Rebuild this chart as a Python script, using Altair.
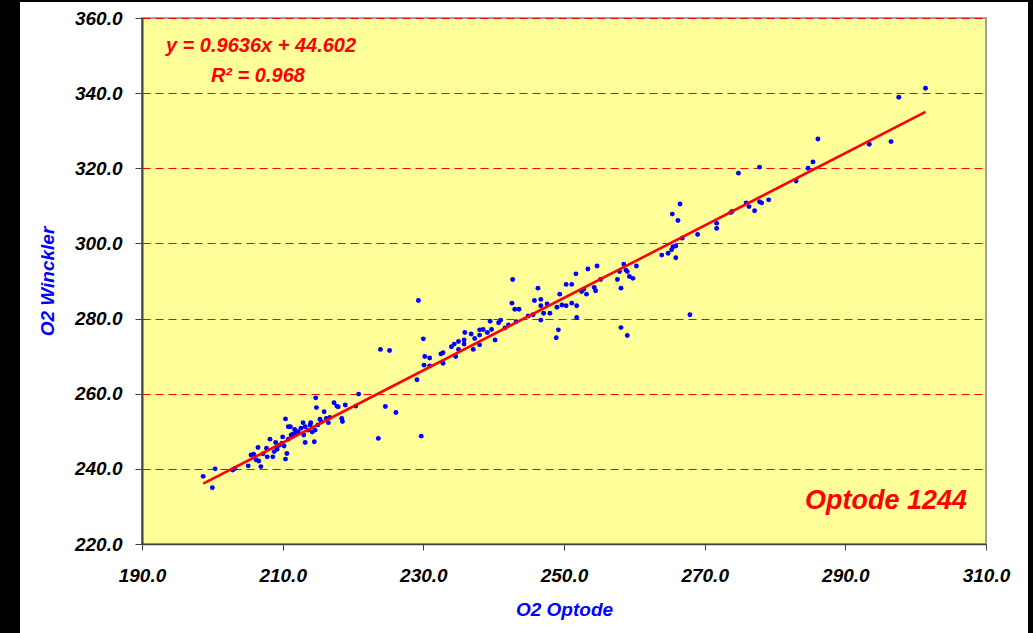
import altair as alt
import pandas as pd

# Paired oxygen readings: optode sensor (x) vs. Winkler titration (y)
optode = [
    198.7, 200.0, 200.4, 202.9, 203.2, 205.1, 205.5, 205.9, 206.2, 206.5, 206.6, 206.9,
    207.7, 207.8, 208.2, 208.6, 208.8, 209.2, 209.5, 209.9, 210.2, 210.4, 210.6, 210.4,
    210.8, 211.1, 210.8, 211.2, 211.5, 211.9, 212.2, 212.9, 213.2, 213.2, 213.6, 213.9,
    214.0, 214.5, 214.6, 214.7, 214.8, 215.0, 215.3, 215.9, 216.2, 216.5, 216.7, 217.3,
    217.7, 217.9, 218.4, 218.5, 218.9, 220.4, 220.8,
    207.2, 209.0, 210.0, 211.7, 212.6, 213.0, 214.2, 215.5,
    223.6, 224.6, 226.1, 229.7,
    223.9, 225.2, 229.1, 229.3, 230.0, 230.2, 230.9, 230.1, 230.9, 232.5, 232.8, 232.8,
    234.0, 234.4, 234.6, 235.0, 235.0, 235.8, 235.8, 235.9, 236.8, 237.1, 237.3, 238.0,
    238.0, 238.0, 238.5, 239.1, 239.5, 239.7, 240.2, 240.7,
    241.0, 241.6, 242.1, 242.6, 242.7, 243.0, 243.6, 243.2, 244.9, 245.6, 245.8, 246.3,
    246.7, 246.7, 246.7, 247.1, 247.6, 248.0, 248.9, 249.2, 249.0, 249.4, 249.7, 250.3,
    250.3, 251.1, 251.1, 251.7, 251.8, 251.8, 252.5, 252.8, 253.2, 253.4, 254.3, 254.5,
    254.7, 255.2, 257.6, 258.1, 258.1, 257.9, 258.5, 258.8, 259.0, 259.0, 259.3, 259.8,
    260.3,
    263.9, 264.8, 265.3, 265.5, 265.9, 265.9, 265.4, 266.2, 266.5, 266.8, 267.9, 269.0,
    271.7, 271.7, 273.7, 273.9,
    274.8, 275.9, 276.3, 277.1, 277.8, 277.8, 278.1, 279.1, 283.0, 284.7, 285.4, 286.1,
    293.4, 296.5, 297.6, 301.4,
]
winkler = [
    238.0, 235.0, 240.0, 239.7, 240.1, 240.8, 243.7, 243.9, 242.4, 245.7, 242.1, 240.6,
    245.5, 243.2, 247.9, 243.2, 244.6, 245.2, 246.3, 246.8, 246.1, 242.6, 244.1, 253.3,
    251.2, 251.2, 247.9, 249.0, 249.3, 249.6, 249.9, 252.3, 251.2, 247.0, 250.3, 251.7,
    252.3, 247.2, 250.3, 258.9, 256.3, 251.7, 253.2, 255.2, 253.4, 252.3, 253.7, 257.6,
    256.7, 256.5, 253.4, 252.6, 257.0, 256.7, 259.9,
    244.0, 247.0, 248.5, 250.5, 250.8, 249.0, 249.8, 252.5,
    248.1, 256.6, 255.0, 248.7,
    271.8, 271.5, 263.7, 284.8, 274.6, 269.9, 269.5, 267.6, 267.4, 270.6, 270.9, 268.1,
    272.5, 273.2, 269.9, 273.9, 271.8, 274.3, 273.2, 276.3, 275.9, 271.8, 274.7, 275.6,
    277.0, 273.0, 277.1, 276.3, 279.3, 277.1, 274.3, 278.9,
    279.6, 277.5, 278.3, 284.1, 290.4, 282.5, 282.5, 279.2, 280.7, 281.0, 284.8, 288.1,
    285.1, 283.4, 279.6, 281.4, 283.9, 281.4, 274.9, 277.0, 283.0, 286.5, 283.6, 283.4,
    289.1, 289.1, 284.1, 291.9, 283.4, 280.3, 287.2, 287.8, 286.5, 293.2, 288.3, 287.4,
    294.0, 290.4, 290.4, 288.1, 277.6, 292.5, 294.5, 292.9, 292.5, 275.5, 291.2, 290.7,
    294.0,
    296.9, 297.4, 298.3, 299.1, 299.3, 296.2, 307.8, 306.1, 310.5, 301.4, 281.0, 302.4,
    305.4, 304.0, 308.2, 308.5,
    318.7, 310.8, 309.8, 308.7, 320.3, 311.1, 310.8, 311.6, 316.6, 320.0, 321.7, 327.8,
    326.4, 327.1, 338.9, 341.3,
]

# Linear fit as reported on the chart
slope = 0.9636
intercept = 44.602
r_squared = 0.968

x_ticks = [190, 210, 230, 250, 270, 290, 310]
y_ticks = [220, 240, 260, 280, 300, 320, 340, 360]

W, H = 844, 526
PAD = {"left": 142, "top": 18, "right": 47, "bottom": 89}
FONT = "Liberation Sans"

points = pd.DataFrame({"optode": optode, "winkler": winkler})
fit_x = [min(optode), max(optode)]
fit = pd.DataFrame({"optode": fit_x, "winkler": [slope * v + intercept for v in fit_x]})

labels = pd.DataFrame({
    "optode": [193.4, 199.8, 307.3],
    "winkler": [352.6, 344.6, 231.4],
    "text": [f"y = {slope}x + {intercept}", f"R² = {r_squared}", "Optode 1244"],
    "size": [20, 20, 27],
    "align": ["left", "left", "right"],
})

x_scale = alt.Scale(domain=[190, 310], nice=False, zero=False)
y_scale = alt.Scale(domain=[220, 360], nice=False, zero=False)

x_axis = alt.Axis(
    title="O2 Optode", values=x_ticks, format=".1f", grid=False,
    labelFont=FONT, labelFontSize=19, labelFontWeight="bold", labelFontStyle="italic",
    labelColor="black", labelPadding=16, labelFlush=False,
    tickSize=6, tickColor="#404040", domainColor="#404040", domainWidth=1.5,
    titleFont=FONT, titleFontSize=19, titleFontWeight="bold", titleFontStyle="italic",
    titleColor="#0000FF", titleY=65, titleBaseline="middle",
)
y_axis = alt.Axis(
    title="O2 Winckler", values=y_ticks, format=".1f",
    grid=True, gridColor="#FF0000", gridDash=[8, 5], gridWidth=1,
    labelFont=FONT, labelFontSize=19, labelFontWeight="bold", labelFontStyle="italic",
    labelColor="black", labelPadding=13, labelFlush=False,
    tickSize=7, tickColor="#404040", domainColor="#404040", domainWidth=2,
    titleFont=FONT, titleFontSize=19, titleFontWeight="bold", titleFontStyle="italic",
    titleColor="#0000FF", titleX=-95, titleY=H / 2, titleAngle=-90,
    titleAlign="center", titleBaseline="middle",
)

frame = pd.DataFrame({"k": [0]})
strip_left = alt.Chart(frame).mark_rect(color="black").encode(
    x=alt.value(-PAD["left"]), x2=alt.value(-PAD["left"] + 20),
    y=alt.value(-PAD["top"]), y2=alt.value(H + PAD["bottom"]),
)
strip_top = alt.Chart(frame).mark_rect(color="black").encode(
    x=alt.value(-PAD["left"]), x2=alt.value(W + PAD["right"]),
    y=alt.value(-PAD["top"]), y2=alt.value(-PAD["top"] + 2),
)
strip_right = alt.Chart(frame).mark_rect(color="black").encode(
    x=alt.value(W + PAD["right"] - 5), x2=alt.value(W + PAD["right"]),
    y=alt.value(-PAD["top"]), y2=alt.value(H + PAD["bottom"]),
)

dots = alt.Chart(points).mark_circle(color="#0000FF", opacity=1, size=24).encode(
    x=alt.X("optode:Q", scale=x_scale, axis=x_axis),
    y=alt.Y("winkler:Q", scale=y_scale, axis=y_axis),
)

trend = alt.Chart(fit).mark_line(color="#FF0000", strokeWidth=2.6).encode(
    x=alt.X("optode:Q", scale=x_scale),
    y=alt.Y("winkler:Q", scale=y_scale),
)

def note(i):
    row = labels.iloc[[i]]
    return alt.Chart(row).mark_text(
        font=FONT, fontWeight="bold", fontStyle="italic", color="#FF0000",
        fontSize=int(row["size"].iloc[0]), align=row["align"].iloc[0], baseline="middle",
    ).encode(
        x=alt.X("optode:Q", scale=x_scale),
        y=alt.Y("winkler:Q", scale=y_scale),
        text="text:N",
    )

chart = alt.layer(
    strip_left, strip_top, strip_right, dots, trend, note(0), note(1), note(2)
).properties(
    width=W, height=H, padding=PAD,
    autosize=alt.AutoSizeParams(type="none"),
    background="white",
).configure_view(
    fill="#FFFF99", stroke="#A0A0A0", strokeWidth=2,
)

chart.save("out.html", embed_options={"renderer": "svg", "actions": False})
